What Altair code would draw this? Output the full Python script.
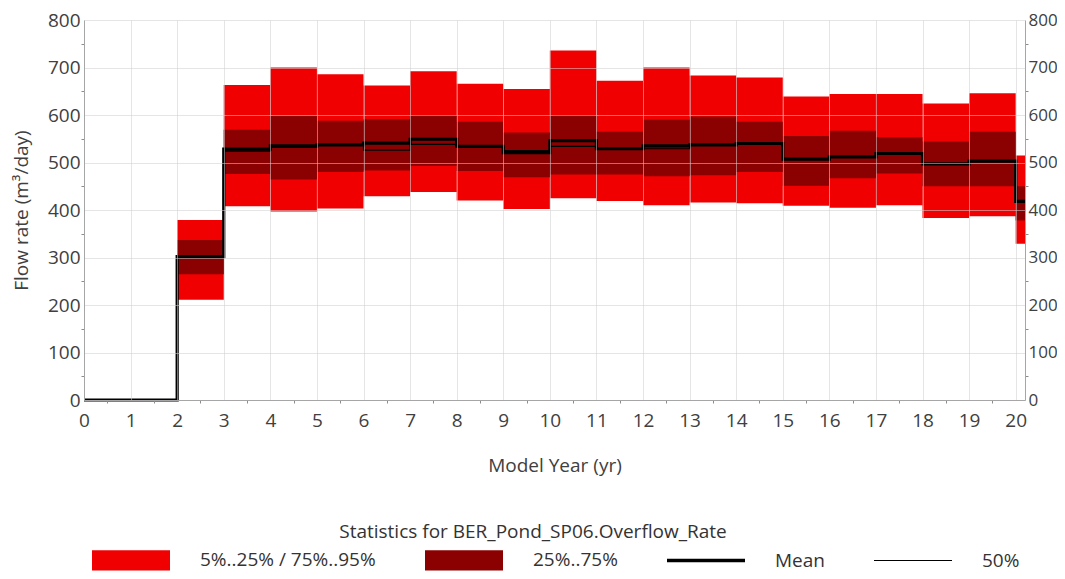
import altair as alt
import pandas as pd

# ---- data ----
period_start = [2, 3, 4, 5, 6, 7, 8, 9, 10, 11, 12, 13, 14, 15, 16, 17, 18, 19, 20]
period_end = [3, 4, 5, 6, 7, 8, 9, 10, 11, 12, 13, 14, 15, 16, 17, 18, 19, 20, 20.2]
p95 = [379, 663, 700, 686, 662, 692, 666, 655, 736, 672, 700, 683, 679, 639, 644, 644, 624, 646, 515]
p75 = [337, 569, 598, 588, 591, 600, 586, 563, 600, 565, 590, 597, 586, 556, 567, 553, 544, 565, 450]
p25 = [265, 476, 464, 480, 483, 493, 482, 469, 475, 475, 471, 473, 480, 451, 467, 477, 450, 450, 378]
p5 = [211, 408, 397, 403, 429, 438, 420, 402, 425, 419, 410, 416, 414, 409, 405, 410, 383, 387, 329]

line_years = [0, 2, 3, 4, 5, 6, 7, 8, 9, 10, 11, 12, 13, 14, 15, 16, 17, 18, 19, 20, 20.2]
mean_vals = [0, 302, 528, 535, 537, 541, 549, 534, 521, 546, 529, 535, 537, 540, 507, 512, 519, 497, 503, 418, 418]
median_vals = [0, 300, 524, 532, 537, 526, 538, 534, 525, 534, 529, 529, 537, 540, 507, 512, 519, 497, 503, 418, 418]

legend_cats = ["5%..25% / 75%..95%", "25%..75%", "Mean", "50%"]
legend_colors = ["#F00000", "#8B0000", "#000000", "#000000"]
legend_shapes = [
    "M-1,-0.26L1,-0.26L1,0.26L-1,0.26Z",
    "M-1,-0.26L1,-0.26L1,0.26L-1,0.26Z",
    "M-1,-0.045L1,-0.045L1,0.045L-1,0.045Z",
    "M-1,-0.014L1,-0.014L1,0.014L-1,0.014Z",
]
# legend carrier points sit outside the x domain and are clipped away
legend_x = [-5, -5, -5, -5]
legend_y = [0, 0, 0, 0]

x_ticks = list(range(0, 21))
x_minor = [0.5, 1.5, 2.5, 3.5, 4.5, 5.5, 6.5, 7.5, 8.5, 9.5, 10.5, 11.5, 12.5, 13.5,
           14.5, 15.5, 16.5, 17.5, 18.5, 19.5]
y_ticks = [0, 100, 200, 300, 400, 500, 600, 700, 800]
y_minor = [50, 150, 250, 350, 450, 550, 650, 750]

bands = pd.DataFrame({"start": period_start, "end": period_end,
                      "p5": p5, "p25": p25, "p75": p75, "p95": p95})
lines = pd.DataFrame({"year": line_years, "mean": mean_vals, "median": median_vals})
leg = pd.DataFrame({"stat": legend_cats, "x": legend_x, "y": legend_y})

FONT = "Open Sans"
TXT = "#404040"
TICK = "#8c8c8c"

xscale = alt.Scale(domain=[0, 20.2], nice=False, zero=False)
yscale = alt.Scale(domain=[0, 800], nice=False)

x_axis = alt.Axis(values=x_ticks, title="Model Year (yr)", grid=True, tickSize=0,
                  labelPadding=11, titlePadding=26, zindex=1, labelFlush=False,
                  orient="bottom")
x_minor_axis = alt.Axis(values=x_minor, title=None, grid=False, labels=False, domain=False,
                        ticks=True, tickSize=3, tickColor=TICK, orient="bottom", zindex=1)
y_left = alt.Axis(values=y_ticks, title="Flow rate (m³/day)", grid=True, tickSize=0,
                  labelPadding=4, titlePadding=16, zindex=1, orient="left")
y_left_minor = alt.Axis(values=y_minor, title=None, grid=False, labels=False, domain=False,
                        ticks=True, tickSize=3, tickColor=TICK, orient="left", zindex=1)
y_right = alt.Axis(values=y_ticks, title=None, grid=False, tickSize=0, labelFontSize=17,
                   labelPadding=3, zindex=1, orient="right")
y_right_minor = alt.Axis(values=y_minor, title=None, grid=False, labels=False, domain=False,
                         ticks=True, tickSize=3, tickColor=TICK, orient="right", zindex=1)

legend_layer = alt.Chart(leg).mark_point(filled=True, clip=True, opacity=1).encode(
    x=alt.X("x:Q", scale=xscale, axis=x_minor_axis),
    y=alt.Y("y:Q", scale=yscale, axis=y_left_minor),
    color=alt.Color("stat:N", scale=alt.Scale(domain=legend_cats, range=legend_colors),
                    legend=alt.Legend(
                        title="Statistics for BER_Pond_SP06.Overflow_Rate",
                        orient="none", legendX=-38, legendY=503, direction="horizontal",
                        columns=4, titleAnchor="middle", titlePadding=-21, titleLimit=800,
                        titleFont=FONT, titleFontSize=19, titleFontWeight="normal",
                        titleColor="#333333", labelFont=FONT, labelFontSize=19,
                        labelColor="#333333", labelOffset=30, columnPadding=3,
                        symbolOffset=46,
                        labelLimit=400, symbolSize=6084, symbolOpacity=1,
                        symbolStrokeWidth=0, padding=0)),
    shape=alt.Shape("stat:N", scale=alt.Scale(domain=legend_cats, range=legend_shapes)),
)
outer = alt.Chart(bands).mark_rect(color="#F00000").encode(
    x=alt.X("start:Q", scale=xscale, axis=x_axis),
    x2="end:Q",
    y=alt.Y("p5:Q", scale=yscale, axis=y_left),
    y2="p95:Q",
)
inner = alt.Chart(bands).mark_rect(color="#8B0000").encode(
    x=alt.X("start:Q", scale=xscale, axis=None),
    x2="end:Q",
    y=alt.Y("p25:Q", scale=yscale, axis=y_right_minor),
    y2="p75:Q",
)
mean_line = alt.Chart(lines).mark_line(color="black", strokeWidth=3.2, interpolate="step-after").encode(
    x=alt.X("year:Q", scale=xscale, axis=None),
    y=alt.Y("mean:Q", scale=yscale, axis=None),
)
median_line = alt.Chart(lines).mark_line(color="black", strokeWidth=1.2, interpolate="step-after").encode(
    x=alt.X("year:Q", scale=xscale, axis=None),
    y=alt.Y("median:Q", scale=yscale, axis=y_right),
)

chart = alt.layer(legend_layer, outer, inner, mean_line, median_line).resolve_axis(
    x="independent", y="independent"
).properties(
    width=941, height=380,
    autosize=alt.AutoSizeParams(type="none"),
    padding={"left": 76, "top": 12, "right": 32, "bottom": 171},
).configure_view(stroke=None).configure_axis(
    labelFont=FONT, labelFontSize=19, labelColor=TXT,
    titleFont=FONT, titleFontSize=19, titleFontWeight="normal", titleColor=TXT,
    domainColor="#a6a6a6", gridColor="#d0d0d0", gridOpacity=0.55,
)

chart.save("out.html", embed_options={"renderer": "svg", "actions": False})
